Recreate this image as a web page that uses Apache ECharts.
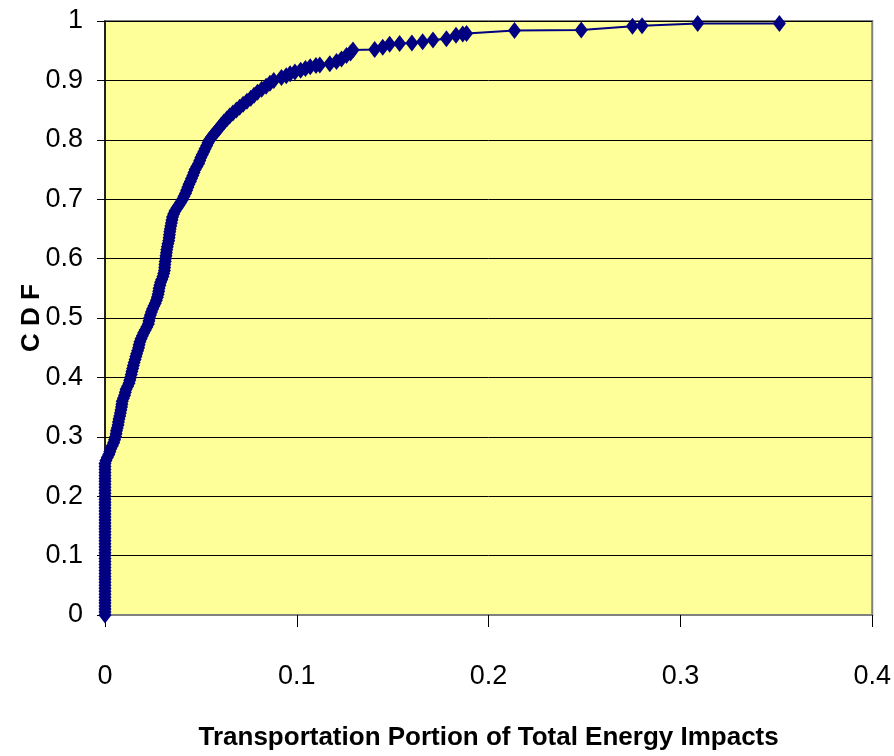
<!DOCTYPE html>
<html>
<head>
<meta charset="utf-8">
<script src="https://cdn.jsdelivr.net/npm/echarts@6/dist/echarts.min.js"></script>
<style>
  html, body { margin: 0; padding: 0; background: #fff; }
  #chart { width: 894px; height: 756px; }
</style>
</head>
<body>
<div id="chart"></div>
<script>
// 运输占比为 0 的样本 (CDF 值)
const zeroStackCdf = [
  0, 0.005, 0.01, 0.015, 0.02, 0.025, 0.03, 0.035, 0.04, 0.045,
  0.05, 0.055, 0.06, 0.065, 0.07, 0.075, 0.08, 0.085, 0.09, 0.095,
  0.1, 0.105, 0.11, 0.115, 0.12, 0.125, 0.13, 0.135, 0.14, 0.145,
  0.15, 0.155, 0.16, 0.165, 0.17, 0.175, 0.18, 0.185, 0.19, 0.195,
  0.2, 0.205, 0.21, 0.215, 0.22, 0.225, 0.23, 0.235, 0.24, 0.245,
  0.25, 0.255
];
// 其余样本 [运输占比, CDF]
const curvePoints = [
  [0.0005, 0.26], [0.0012, 0.265], [0.002, 0.27], [0.0025, 0.275], [0.003, 0.28],
  [0.0038, 0.285], [0.0045, 0.29], [0.005, 0.295], [0.0055, 0.3], [0.0058, 0.305],
  [0.006, 0.31], [0.0064, 0.315], [0.0068, 0.32], [0.007, 0.325], [0.0073, 0.33],
  [0.0077, 0.335], [0.008, 0.34], [0.0083, 0.345], [0.0086, 0.35], [0.0088, 0.355],
  [0.009, 0.36], [0.0096, 0.365], [0.0102, 0.37], [0.0106, 0.375], [0.011, 0.38],
  [0.0118, 0.385], [0.0125, 0.39], [0.0129, 0.395], [0.0133, 0.4], [0.0137, 0.405],
  [0.014, 0.41], [0.0144, 0.415], [0.0148, 0.42], [0.0152, 0.425], [0.0157, 0.43],
  [0.0161, 0.435], [0.0165, 0.44], [0.017, 0.445], [0.0175, 0.45], [0.0178, 0.455],
  [0.0182, 0.46], [0.0188, 0.465], [0.0195, 0.47], [0.0202, 0.475], [0.021, 0.48],
  [0.0218, 0.485], [0.0226, 0.49], [0.0229, 0.495], [0.0232, 0.5], [0.0237, 0.505],
  [0.0242, 0.51], [0.0248, 0.515], [0.0255, 0.52], [0.0262, 0.525], [0.0268, 0.53],
  [0.0273, 0.535], [0.0277, 0.54], [0.028, 0.545], [0.0282, 0.55], [0.0286, 0.555],
  [0.029, 0.56], [0.0296, 0.565], [0.0302, 0.57], [0.0306, 0.575], [0.031, 0.58],
  [0.0311, 0.585], [0.0312, 0.59], [0.0314, 0.595], [0.0316, 0.6], [0.0318, 0.605],
  [0.032, 0.61], [0.0322, 0.615], [0.0325, 0.62], [0.0328, 0.625], [0.0332, 0.63],
  [0.0334, 0.635], [0.0336, 0.64], [0.0338, 0.645], [0.034, 0.65], [0.0343, 0.655],
  [0.0346, 0.66], [0.0349, 0.665], [0.0352, 0.67], [0.0358, 0.675], [0.0365, 0.68],
  [0.0375, 0.685], [0.0385, 0.69], [0.0395, 0.695], [0.0405, 0.7], [0.0412, 0.705],
  [0.042, 0.71], [0.0426, 0.715], [0.0432, 0.72], [0.0438, 0.725], [0.0445, 0.73],
  [0.0451, 0.735], [0.0458, 0.74], [0.0464, 0.745], [0.047, 0.75], [0.0479, 0.755],
  [0.0488, 0.76], [0.0494, 0.765], [0.05, 0.77], [0.0507, 0.775], [0.0515, 0.78],
  [0.0522, 0.785], [0.053, 0.79], [0.0537, 0.795], [0.0545, 0.8], [0.0557, 0.805],
  [0.057, 0.81], [0.0582, 0.815], [0.0595, 0.82], [0.0607, 0.825], [0.062, 0.83],
  [0.0635, 0.835], [0.065, 0.84], [0.0667, 0.845], [0.0685, 0.85], [0.0702, 0.855],
  [0.072, 0.86], [0.074, 0.865], [0.076, 0.87], [0.0777, 0.875], [0.0795, 0.88],
  [0.0817, 0.885], [0.084, 0.89], [0.086, 0.895], [0.088, 0.9], [0.092, 0.905],
  [0.0945, 0.908], [0.0965, 0.911], [0.099, 0.914], [0.102, 0.917], [0.1045, 0.92],
  [0.107, 0.923], [0.11, 0.925], [0.112, 0.926], [0.1172, 0.928], [0.1207, 0.932],
  [0.1233, 0.936], [0.1259, 0.942], [0.128, 0.946], [0.1293, 0.951],
  [0.1406, 0.952], [0.1448, 0.956], [0.1484, 0.961], [0.1536, 0.962], [0.16, 0.963],
  [0.1656, 0.965], [0.171, 0.968], [0.178, 0.97], [0.183, 0.976], [0.1865, 0.978],
  [0.1885, 0.979],
  [0.2135, 0.984], [0.2483, 0.985], [0.275, 0.991], [0.28, 0.992], [0.309, 0.996],
  [0.3516, 0.996]
];
const xTicks = [0, 0.1, 0.2, 0.3, 0.4];
const yTicks = [0, 0.1, 0.2, 0.3, 0.4, 0.5, 0.6, 0.7, 0.8, 0.9, 1];

const points = zeroStackCdf.map((y) => [0, y]).concat(curvePoints);
const font = '"Liberation Sans", Arial, sans-serif';

const myChart = echarts.init(document.getElementById('chart'));
myChart.setOption({
  animation: false,
  backgroundColor: '#ffffff',
  grid: {
    left: 105,
    top: 21,
    right: 21,
    bottom: 136,
    show: true,
    backgroundColor: '#FFFF99',
    borderColor: '#808080',
    borderWidth: 2
  },
  xAxis: {
    type: 'value',
    min: xTicks[0],
    max: xTicks[xTicks.length - 1],
    interval: 0.1,
    name: 'Transportation Portion of Total Energy Impacts',
    nameLocation: 'middle',
    nameGap: 110,
    nameMoveOverlap: false,
    nameTextStyle: { fontFamily: font, fontWeight: 'bold', fontSize: 26, color: '#000' },
    axisLine: { show: true, lineStyle: { color: '#808080', width: 2 } },
    axisTick: { show: true, length: 12, lineStyle: { color: '#000', width: 1 } },
    axisLabel: { margin: 48, fontFamily: font, fontSize: 27, color: '#000' },
    splitLine: { show: false }
  },
  yAxis: {
    type: 'value',
    min: yTicks[0],
    max: yTicks[yTicks.length - 1],
    interval: 0.1,
    name: 'C D F',
    nameLocation: 'middle',
    nameGap: 60,
    nameMoveOverlap: false,
    nameTextStyle: { fontFamily: font, fontWeight: 'bold', fontSize: 26, color: '#000' },
    axisLine: { show: true, lineStyle: { color: '#000', width: 1.5 } },
    axisTick: { show: true, length: 8, lineStyle: { color: '#000', width: 1 } },
    axisLabel: { margin: 22, fontFamily: font, fontSize: 27, color: '#000' },
    splitLine: { show: true, lineStyle: { color: '#000', width: 1 } }
  },
  series: [
    {
      type: 'line',
      data: points,
      showAllSymbol: true,
      symbol: 'diamond',
      symbolSize: [13, 17],
      itemStyle: { color: '#000080' },
      lineStyle: { color: '#000080', width: 2 },
      z: 3
    }
  ]
});
</script>
</body>
</html>
